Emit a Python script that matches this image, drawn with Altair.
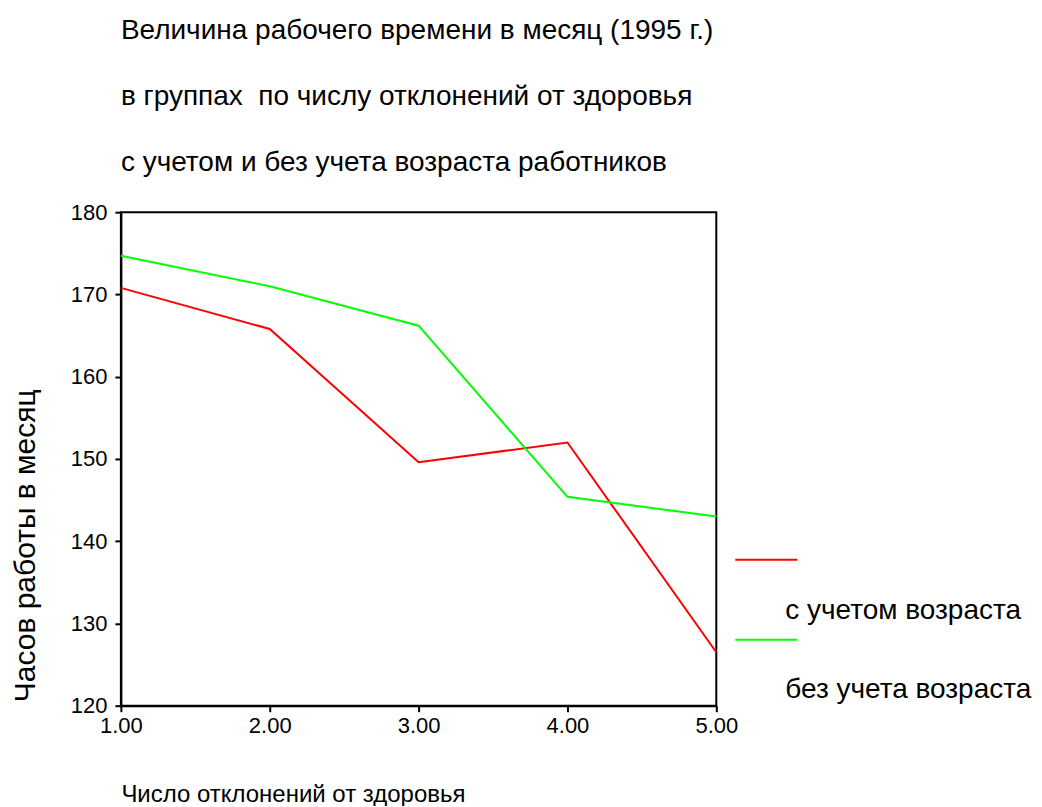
import altair as alt
import pandas as pd

x_vals = [1, 2, 3, 4, 5]
with_age = [170.8, 165.8, 149.6, 152.0, 126.5]
without_age = [174.7, 171.0, 166.2, 145.4, 143.0]
series_names = ["с учетом возраста", "без учета возраста"]
series_colors = ["#ff0000", "#00ff00"]
y_ticks = [120, 130, 140, 150, 160, 170, 180]
title_lines = [
    "Величина рабочего времени в месяц (1995 г.)",
    "в группах\u00a0 по числу отклонений от здоровья",
    "с учетом и без учета возраста работников",
]
x_title = "Число отклонений от здоровья"
y_title = "Часов работы в месяц"

FONT = "Liberation Sans"
W, H = 596, 494

df = pd.DataFrame({
    "x": x_vals * 2,
    "value": with_age + without_age,
    "series": [series_names[0]] * len(x_vals) + [series_names[1]] * len(x_vals),
})

lines = alt.Chart(df).mark_line(strokeWidth=2, clip=False).encode(
    x=alt.X("x:Q",
            scale=alt.Scale(domain=[1, 5], nice=False, zero=False),
            axis=alt.Axis(values=x_vals, format=".2f", title=x_title,
                          labelFlush=False, labelPadding=4,
                          titleX=0, titleY=89, titleAlign="left",
                          titleBaseline="middle", titleFontSize=24)),
    y=alt.Y("value:Q",
            scale=alt.Scale(domain=[120, 180], nice=False, zero=False),
            axis=alt.Axis(values=y_ticks, title=y_title,
                          labelFlush=False, labelPadding=8,
                          titleAngle=270, titleX=-95, titleY=H - 4,
                          titleAlign="left", titleBaseline="middle",
                          titleFontSize=30)),
    color=alt.Color("series:N",
                    scale=alt.Scale(domain=series_names, range=series_colors),
                    legend=None),
)

one = pd.DataFrame({"t": [0]})
leg_rule_a = alt.Chart(one).mark_rule(color=series_colors[0], strokeWidth=2).encode(
    x=alt.value(615), x2=alt.value(677), y=alt.value(348))
leg_rule_b = alt.Chart(one).mark_rule(color=series_colors[1], strokeWidth=2).encode(
    x=alt.value(615), x2=alt.value(677), y=alt.value(428))
leg_text_a = alt.Chart(pd.DataFrame({"t": [series_names[0]]})).mark_text(
    align="left", baseline="middle", font=FONT, fontSize=28, color="black").encode(
    x=alt.value(665), y=alt.value(399), text="t:N")
leg_text_b = alt.Chart(pd.DataFrame({"t": [series_names[1]]})).mark_text(
    align="left", baseline="middle", font=FONT, fontSize=28, color="black").encode(
    x=alt.value(665), y=alt.value(478), text="t:N")

chart = alt.layer(lines, leg_rule_a, leg_rule_b, leg_text_a, leg_text_b).properties(
    width=W, height=H,
    title=alt.TitleParams(text=title_lines, anchor="start", frame="group",
                          font=FONT, fontSize=28, fontWeight="normal",
                          lineHeight=66, offset=24, color="black"),
    autosize=alt.AutoSizeParams(type="none"),
    padding={"left": 113, "top": 204, "right": 318, "bottom": 100},
).configure_view(
    stroke="black", strokeWidth=2
).configure_axis(
    grid=False, domainColor="black", domainWidth=2,
    tickColor="black", tickWidth=2, tickSize=6,
    labelColor="black", labelFont=FONT, labelFontSize=22,
    titleColor="black", titleFont=FONT, titleFontWeight="normal",
)

chart.save("out.html", embed_options={"renderer": "svg", "actions": False})
